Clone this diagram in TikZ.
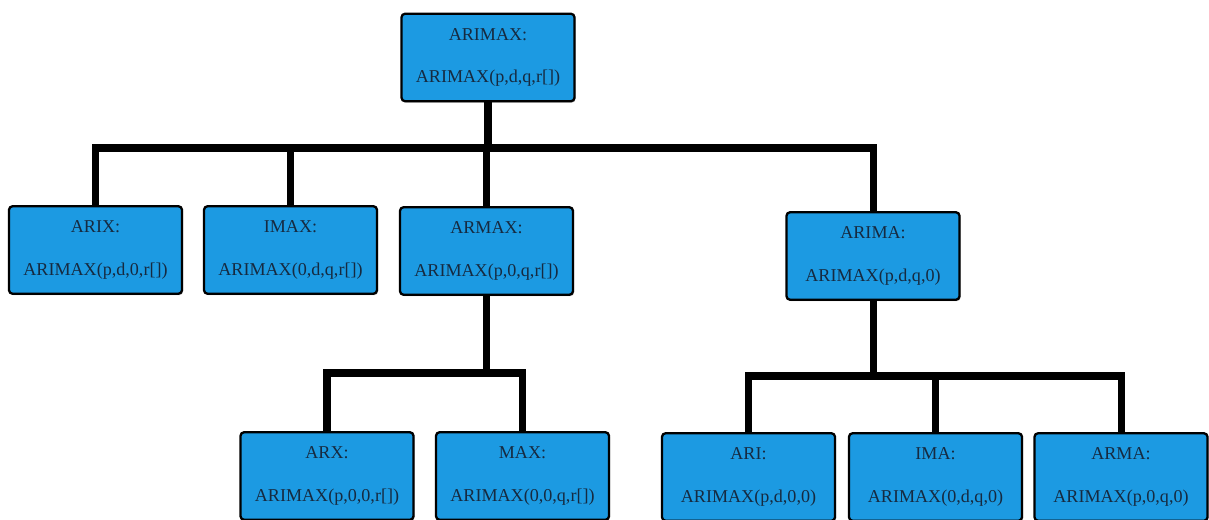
\documentclass[tikz,border=0pt]{standalone}
\usepackage{fontspec}
\setmainfont{Liberation Serif}
\usetikzlibrary{shadows}
\definecolor{boxblue}{RGB}{28,154,226}
\definecolor{boxtext}{RGB}{22,42,64}
\tikzset{
  modelbox/.style={draw=black, line width=1.3pt, fill=boxblue, rounded corners=2pt,
    minimum width=3.46cm, minimum height=1.75cm, align=center, text=boxtext,
    font=\fontsize{10.3}{12}\selectfont, inner sep=2pt,
    drop shadow={shadow xshift=0.6pt, shadow yshift=-0.8pt, opacity=0.5}},
  link/.style={line width=4pt, black}
}
\newcommand{\model}[2]{#1\\[12pt]#2}
\begin{document}
\begin{tikzpicture}[x=0.02cm, y=-0.02cm]
  \useasboundingbox (0,0) rectangle (1209,520);

  % Root
  \node[modelbox] (arimax) at (488,57.5) {\model{ARIMAX:}{ARIMAX(p,d,q,r[])}};

  % Second level
  \node[modelbox] (arix)  at (95.5,250) {\model{ARIX:}{ARIMAX(p,d,0,r[])}};
  \node[modelbox] (imax)  at (290.5,250) {\model{IMAX:}{ARIMAX(0,d,q,r[])}};
  \node[modelbox] (armax) at (486.5,251) {\model{ARMAX:}{ARIMAX(p,0,q,r[])}};
  \node[modelbox] (arima) at (873,256) {\model{ARIMA:}{ARIMAX(p,d,q,0)}};

  % Third level
  \node[modelbox] (arx) at (327,476) {\model{ARX:}{ARIMAX(p,0,0,r[])}};
  \node[modelbox] (max) at (522.5,476) {\model{MAX:}{ARIMAX(0,0,q,r[])}};
  \node[modelbox] (ari) at (748.5,477) {\model{ARI:}{ARIMAX(p,d,0,0)}};
  \node[modelbox] (ima) at (935.5,477) {\model{IMA:}{ARIMAX(0,d,q,0)}};
  \node[modelbox] (arma) at (1121,477) {\model{ARMA:}{ARIMAX(p,0,q,0)}};

  % Junctions
  \coordinate (j1) at (arimax.south |- 0,148);
  \coordinate (j2) at (armax.south |- 0,373);
  \coordinate (j3) at (arima.south |- 0,376);

  % Connectors
  \draw[link] (arimax.south) -- (j1);
  \foreach \c in {arix,imax,armax,arima}
    \draw[link] (j1) -| (\c.north);
  \draw[link] (armax.south) -- (j2);
  \foreach \c in {arx,max}
    \draw[link] (j2) -| (\c.north);
  \draw[link] (arima.south) -- (j3);
  \foreach \c in {ari,ima,arma}
    \draw[link] (j3) -| (\c.north);
\end{tikzpicture}
\end{document}
